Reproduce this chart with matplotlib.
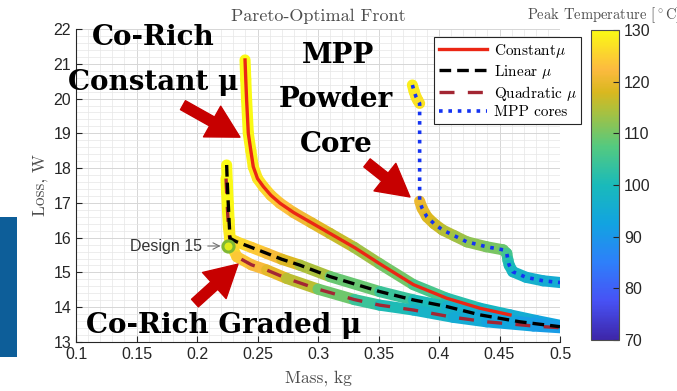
import numpy as np
import matplotlib
matplotlib.use('Agg')
import matplotlib.pyplot as plt
from matplotlib.collections import LineCollection
from matplotlib.colors import LinearSegmentedColormap, Normalize
from matplotlib.ticker import MultipleLocator
from matplotlib.patches import Rectangle

plt.rcParams['mathtext.fontset'] = 'cm'

# data
constant_mass = [0.2397, 0.2403, 0.2410, 0.2424, 0.2445, 0.2465, 0.2500, 0.2548, 0.2610, 0.2686, 0.2800,
                 0.2950, 0.3100, 0.3300, 0.3510, 0.3788, 0.4063, 0.4339, 0.4587, 0.4800, 0.5000]
constant_loss = [21.11, 20.55, 19.96, 19.00, 18.50, 18.04, 17.70, 17.47, 17.22, 16.99, 16.72,
                 16.42, 16.12, 15.72, 15.25, 14.65, 14.26, 13.97, 13.78, 13.62, 13.48]
constant_temp = [130, 130, 130, 130, 129, 129, 128, 127, 125, 124, 122,
                 120, 118, 115, 112, 108, 104, 100, 97, 94, 92]
constant_line_end = 19   # red line stops at 0.46 kg, the colour band goes on

linear_mass = [0.2245, 0.2250, 0.2258, 0.2265, 0.2273, 0.2328, 0.2450, 0.2576, 0.2700, 0.2850, 0.3100,
               0.3510, 0.3788, 0.4063, 0.4339, 0.4670, 0.5000]
linear_loss = [18.09, 17.60, 17.00, 16.50, 15.98, 15.88, 15.72, 15.55, 15.38, 15.21, 14.88,
               14.45, 14.21, 14.02, 13.78, 13.58, 13.44]
linear_temp = [130, 130, 130, 129, 128, 127, 125, 123, 120, 117, 112,
               106, 102, 98, 95, 92, 90]

quad_mass = [0.2240, 0.2245, 0.2252, 0.2260, 0.2275, 0.2330, 0.2450, 0.2576, 0.2740, 0.3000, 0.3300,
             0.3510, 0.3788, 0.4118, 0.4394, 0.4780, 0.5000]
quad_loss = [17.70, 17.30, 16.80, 16.30, 15.84, 15.45, 15.22, 15.07, 14.83, 14.52, 14.22,
             14.06, 13.92, 13.71, 13.58, 13.46, 13.41]
quad_temp = [130, 130, 130, 129, 127, 125, 123, 121, 118, 113, 106,
             102, 99, 96, 94, 92, 90]

mpp_mass = [0.3780, 0.3795, 0.3810, 0.3825, 0.3840, 0.3840, 0.3840, 0.3840, 0.3840, 0.3860, 0.3900, 0.3960,
            0.4030, 0.4130, 0.4230, 0.4390, 0.4530, 0.4560, 0.4570, 0.4580, 0.4610, 0.4720, 0.4860, 0.5000]
mpp_loss = [20.39, 20.20, 20.05, 19.95, 19.86, 19.00, 18.00, 17.18, 17.05, 16.85, 16.60, 16.40,
            16.22, 16.05, 15.88, 15.74, 15.65, 15.55, 15.35, 15.21, 15.02, 14.86, 14.76, 14.71]
mpp_temp = [129, 128, 128, 127, 127, np.nan, np.nan, np.nan, 121, 120, 119, 118,
            116, 114, 113, 111, 110, 108, 103, 101, 99, 97, 96, 95]

design15_mass = 0.2253
design15_loss = 15.76

temp_ticks = [70, 80, 90, 100, 110, 120, 130]
mass_ticks = [0.1, 0.15, 0.2, 0.25, 0.3, 0.35, 0.4, 0.45, 0.5]
loss_ticks = [13, 14, 15, 16, 17, 18, 19, 20, 21, 22]

# parula-like colormap
parula = LinearSegmentedColormap.from_list('parula', [
    (0.000, (0.24, 0.15, 0.66)),
    (0.125, (0.28, 0.32, 0.96)),
    (0.250, (0.18, 0.50, 0.98)),
    (0.375, (0.07, 0.64, 0.88)),
    (0.500, (0.10, 0.73, 0.73)),
    (0.625, (0.33, 0.79, 0.50)),
    (0.750, (0.70, 0.75, 0.22)),
    (0.800, (0.85, 0.72, 0.12)),
    (0.875, (0.99, 0.73, 0.25)),
    (1.000, (0.98, 0.98, 0.08)),
])
parula.set_bad((0, 0, 0, 0))
norm = Normalize(70, 130)

W, H = 677, 391
fig = plt.figure(figsize=(W / 100, H / 100), dpi=100)

def fpos(x, y):
    return (x / W, 1 - y / H)

ax = fig.add_axes([76 / W, 1 - 342 / H, 484 / W, 313 / H])
cax = fig.add_axes([591 / W, 1 - 340 / H, 28 / W, 310 / H])

# temperature bands behind the lines
def band(mass, loss, temp):
    pts = np.column_stack([mass, loss])
    segs = np.stack([pts[:-1], pts[1:]], axis=1)
    t = np.asarray(temp, dtype=float)
    c = (t[:-1] + t[1:]) / 2
    lc = LineCollection(segs, cmap=parula, norm=norm, linewidths=8, capstyle='round', zorder=2)
    lc.set_array(c)
    ax.add_collection(lc)

band(constant_mass, constant_loss, constant_temp)
band(linear_mass, linear_loss, linear_temp)
band(quad_mass, quad_loss, quad_temp)
band(mpp_mass, mpp_loss, mpp_temp)

ax.plot(constant_mass[:constant_line_end], constant_loss[:constant_line_end], color=(0.92, 0.15, 0.08),
        lw=2.4, zorder=4, label=r'Constant$\mu$')
ax.plot(linear_mass, linear_loss, color='black', lw=2.4, dashes=(3.5, 1.8), zorder=4, label=r'Linear $\mu$')
ax.plot(quad_mass, quad_loss, color=(0.64, 0.15, 0.2), lw=2.4, dashes=(4.5, 4), zorder=3,
        label=r'Quadratic $\mu$')
ax.plot(mpp_mass, mpp_loss, color=(0.08, 0.2, 0.95), lw=2.6, dashes=(1, 1.6), zorder=4, label='MPP cores')

ax.plot([design15_mass], [design15_loss], 'o', ms=8, mfc=(0.88, 0.92, 0.1), mec=(0.5, 0.72, 0.2), mew=2.2,
        zorder=6)
ax.annotate('Design 15', xy=(design15_mass - 0.0035, design15_loss), xytext=(design15_mass - 0.021, design15_loss),
            ha='right', va='center', fontsize=11.5, family='Liberation Sans', color=(0.2, 0.2, 0.2),
            arrowprops=dict(arrowstyle='->', color=(0.45, 0.45, 0.45), lw=0.8), zorder=6)

ax.set_xlim(0.1, 0.5)
ax.set_ylim(13, 22)
ax.set_xticks(mass_ticks)
ax.set_xticklabels([f'{v:g}' for v in mass_ticks])
ax.set_yticks(loss_ticks)
ax.xaxis.set_minor_locator(MultipleLocator(0.01))
ax.yaxis.set_minor_locator(MultipleLocator(0.2))
ax.grid(which='major', color=(0.84, 0.84, 0.84), lw=0.7)
ax.grid(which='minor', color=(0.9, 0.9, 0.9), lw=0.5)
ax.set_axisbelow(True)
ax.tick_params(which='major', direction='in', length=4, color=(0.15, 0.15, 0.15), labelsize=11.5,
               labelcolor=(0.15, 0.15, 0.15))
ax.tick_params(which='minor', length=0)
for lab in ax.get_xticklabels() + ax.get_yticklabels():
    lab.set_family('Liberation Sans')
for s in ['top', 'right']:
    ax.spines[s].set_visible(False)
for s in ['left', 'bottom']:
    ax.spines[s].set_color((0.15, 0.15, 0.15))
    ax.spines[s].set_linewidth(0.8)

ax.set_title('Pareto-Optimal Front', family='cmr10', fontsize=13, color=(0.3, 0.3, 0.3), pad=6)
ax.set_xlabel('Mass, kg', family='cmr10', fontsize=12.5, color=(0.3, 0.3, 0.3), labelpad=6)
ax.set_ylabel('Loss, W', family='cmr10', fontsize=12.5, color=(0.3, 0.3, 0.3), labelpad=4)

leg = ax.legend(loc='upper right', bbox_to_anchor=fpos(581, 37), bbox_transform=fig.transFigure,
                prop={'family': 'cmr10', 'size': 11}, frameon=True, fancybox=False, framealpha=1,
                edgecolor=(0.15, 0.15, 0.15), handlelength=3.2, handletextpad=0.4, labelspacing=0.2,
                borderpad=0.3, borderaxespad=0)
leg.get_frame().set_linewidth(0.8)
leg.set_zorder(10)

# colorbar
sm = plt.cm.ScalarMappable(norm=norm, cmap=parula)
cb = fig.colorbar(sm, cax=cax, ticks=temp_ticks)
cb.outline.set_edgecolor((0.3, 0.3, 0.3))
cb.outline.set_linewidth(0.8)
cax.tick_params(direction='in', length=4, color=(0.15, 0.15, 0.15), labelsize=11.5,
                labelcolor=(0.15, 0.15, 0.15))
for lab in cax.get_yticklabels():
    lab.set_family('Liberation Sans')
fig.text(*fpos(527, 19), r'Peak Temperature [$^\circ$C]', family='cmr10', fontsize=10.5,
         color=(0.3, 0.3, 0.3), ha='left', va='baseline')

# big overlay labels
big = dict(family='DejaVu Serif', weight='bold', fontsize=20, color='black', ha='center', va='baseline',
           zorder=20)
fig.text(*fpos(153, 45), 'Co-Rich', **big)
fig.text(*fpos(153, 90), 'Constant \u03bc', **big)
fig.text(*fpos(338, 63), 'MPP', **big)
fig.text(*fpos(336, 107), 'Powder', **big)
fig.text(*fpos(336, 152), 'Core', **big)
fig.text(*fpos(224, 333), 'Co-Rich Graded \u03bc', **big)

# red arrows
arrow = dict(arrowstyle='simple,head_width=1.1,head_length=1.0,tail_width=0.32', color=(0.78, 0.0, 0.0),
             shrinkA=0, shrinkB=0)
for tail, tip in [((0.1884, 19.81), (0.2355, 18.89)),
                  ((0.3405, 18.15), (0.3760, 17.17)),
                  ((0.1983, 14.12), (0.2339, 15.24))]:
    ax.annotate('', xy=tip, xytext=tail, arrowprops=dict(arrow, mutation_scale=23), zorder=15,
                annotation_clip=False)

# piece of neighbouring image on the left edge
fig.patches.append(Rectangle(fpos(0, 357), 17 / W, 140 / H, transform=fig.transFigure,
                             facecolor=(0.05, 0.37, 0.6), edgecolor='none'))

fig.savefig('out.png', dpi=100)
